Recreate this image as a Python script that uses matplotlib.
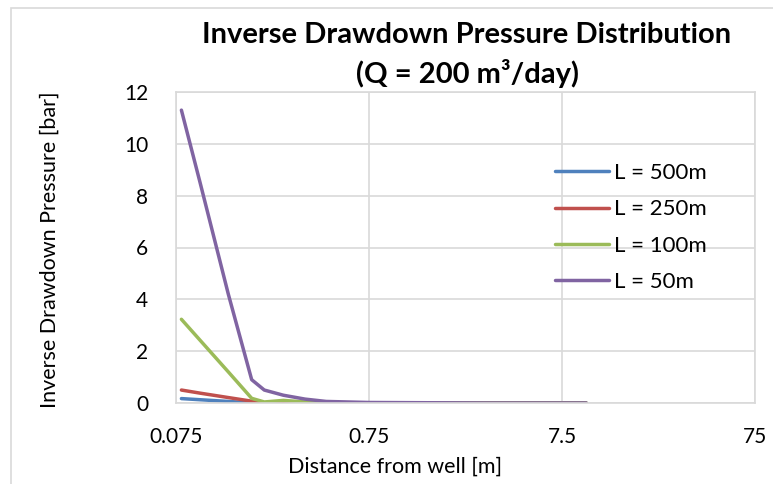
import matplotlib
matplotlib.use("Agg")
import matplotlib.pyplot as plt
from matplotlib.patches import Rectangle
from matplotlib.ticker import FixedLocator, NullLocator

plt.rcParams['font.family'] = ['Lato', 'DejaVu Sans']

# distance from well [m]
distance = [0.08, 0.1, 0.14, 0.185, 0.215, 0.27, 0.35, 0.45, 0.75, 1.5, 3, 10]

# inverse drawdown pressure [bar]
p_500 = [0.17, 0.126, 0.06, 0.005, 0, 0, 0, 0, 0, 0, 0, 0]
p_250 = [0.5, 0.38, 0.21, 0.07, 0.01, 0, 0, 0, 0, 0, 0, 0]
p_100 = [3.23, 2.42, 1.2, 0.18, 0.04, 0.1, 0.04, 0.01, 0, 0, 0, 0]
p_50 = [11.3, 8.5, 4.2, 0.9, 0.5, 0.3, 0.15, 0.06, 0.02, 0.01, 0, 0]

labels = ['L = 500m', 'L = 250m', 'L = 100m', 'L = 50m']
colors = ['#4F81BD', '#C0504D', '#9BBB59', '#8064A2']
x_ticks = [0.075, 0.75, 7.5, 75]
x_ticklabels = ['0.075', '0.75', '7.5', '75']

fig = plt.figure(figsize=(7.73, 4.84), dpi=100)
ax = fig.add_axes([176 / 773, 1 - 403 / 484, (755 - 176) / 773, (403 - 92) / 484])

for ys, lab, c in zip([p_500, p_250, p_100, p_50], labels, colors):
    ax.plot(distance, ys, color=c, lw=2.5, label=lab, solid_capstyle='round')

ax.set_xscale('log')
ax.set_xlim(0.075, 75)
ax.set_ylim(0, 12)
ax.xaxis.set_major_locator(FixedLocator(x_ticks))
ax.xaxis.set_minor_locator(NullLocator())
ax.set_xticklabels(x_ticklabels)
ax.set_yticks(range(0, 13, 2))
ax.tick_params(length=0, labelsize=15, colors='#000000')
ax.tick_params(axis='x', pad=17)
ax.tick_params(axis='y', pad=20)
ax.grid(True, color='#d9d9d9', lw=1.2)
ax.set_axisbelow(True)
for s in ax.spines.values():
    s.set_color('#d9d9d9')
    s.set_linewidth(1.2)

leg = ax.legend(loc='upper left', bbox_to_anchor=(0.655, 0.772), frameon=False,
                fontsize=16, handlelength=2.4, handletextpad=0.25,
                labelspacing=0.74, borderaxespad=0, borderpad=0)

fig.text(467 / 773, 1 - 35 / 484, 'Inverse Drawdown Pressure Distribution',
         ha='center', va='center', fontsize=21, fontweight='bold')
fig.text(467 / 773, 1 - 73 / 484, '(Q = 200 m³/day)',
         ha='center', va='center', fontsize=21, fontweight='bold')
fig.text(50 / 773, 1 - 250 / 484, 'Inverse Drawdown Pressure [bar]',
         rotation=90, ha='center', va='center', fontsize=15.5)
fig.text(395 / 773, 1 - 467 / 484, 'Distance from well [m]',
         ha='center', va='center', fontsize=15.5)

# chart area border (top and left edges visible)
fig.patches.append(Rectangle((11 / 773, -0.1), 1.2, 1 - 8 / 484 + 0.1,
                             transform=fig.transFigure, fill=False,
                             edgecolor='#d9d9d9', lw=1.2))

fig.savefig('out.png', dpi=100)
